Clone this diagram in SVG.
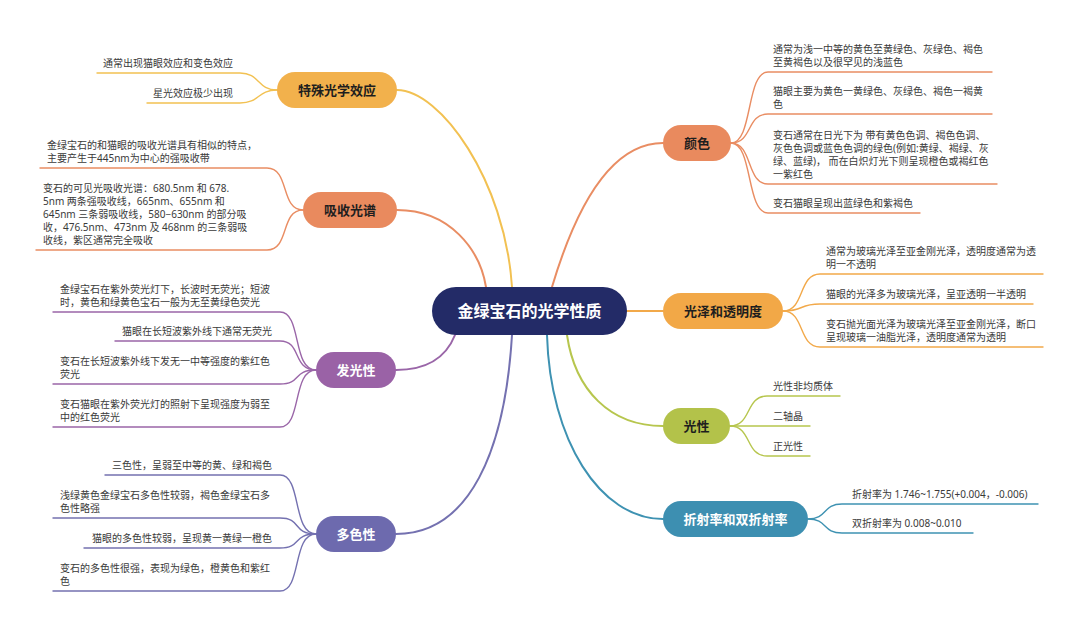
<svg xmlns="http://www.w3.org/2000/svg" width="1080" height="625" viewBox="0 0 1080 625">
<style>
  text { font-family: "Noto Sans CJK SC", "Noto Sans", sans-serif; }
  .leaf { font-size: 10px; fill: #3a3a3a; font-family: "Noto Sans", "Noto Sans CJK SC", sans-serif; }
  .br { font-size: 13px; font-weight: bold; text-anchor: middle; }
  .dark { fill: #1e1e1e; }
  .light { fill: #ffffff; }
  .main { fill: none; stroke-width: 2; stroke-linecap: round; }
  .lf { fill: none; stroke-width: 1.4; stroke-linecap: round; }
  .end { text-anchor: end; }
</style>
<rect width="1080" height="625" fill="#ffffff"/>

<g id="connectors">
  <!-- main branches -->
  <path class="main" stroke="#f2c152" d="M512,287 C505,180 440,90 397,90"/>
  <path class="main" stroke="#e98d63" d="M486,287 C480,250 450,210 397,210"/>
  <path class="main" stroke="#e98d63" d="M552,287 C575,210 610,143 663,143"/>
  <path class="main" stroke="#f2a94a" d="M627,311 L663,311"/>
  <path class="main" stroke="#b7c64e" d="M567,335 C575,390 610,426 663,426"/>
  <path class="main" stroke="#3e92b2" d="M547,335 C550,440 600,519 663,519"/>
  <path class="main" stroke="#9a66a8" d="M455,335 C445,360 425,370 396,370"/>
  <path class="main" stroke="#7471b0" d="M512,335 C505,450 470,534 396,534"/>

  <!-- 特殊光学效应 leaves -->
  <path class="lf" stroke="#f2c152" d="M97,73 L240,73 C260,73 257,90 277,90"/>
  <path class="lf" stroke="#f2c152" d="M147,103 L240,103 C260,103 257,90 277,90"/>
  <!-- 吸收光谱 leaves -->
  <path class="lf" stroke="#e98d63" d="M40,168 L267,168 C290,168 280,210 303,210"/>
  <path class="lf" stroke="#e98d63" d="M36,250 L267,250 C290,250 280,210 303,210"/>
  <!-- 发光性 leaves -->
  <path class="lf" stroke="#9a66a8" d="M53,312 L280,312 C302,312 292,370 316,370"/>
  <path class="lf" stroke="#9a66a8" d="M115,341 L280,341 C302,341 292,370 316,370"/>
  <path class="lf" stroke="#9a66a8" d="M53,384 L280,384 C302,384 292,370 316,370"/>
  <path class="lf" stroke="#9a66a8" d="M53,427 L280,427 C302,427 292,370 316,370"/>
  <!-- 多色性 leaves -->
  <path class="lf" stroke="#7471b0" d="M105,475 L280,475 C302,475 292,534 316,534"/>
  <path class="lf" stroke="#7471b0" d="M53,518 L280,518 C302,518 292,534 316,534"/>
  <path class="lf" stroke="#7471b0" d="M84,548 L280,548 C302,548 292,534 316,534"/>
  <path class="lf" stroke="#7471b0" d="M53,591 L280,591 C302,591 292,534 316,534"/>
  <!-- 颜色 leaves -->
  <path class="lf" stroke="#e98d63" d="M731,143 C753,143 746,72 768,72 L992,72"/>
  <path class="lf" stroke="#e98d63" d="M731,143 C753,143 746,114 768,114 L992,114"/>
  <path class="lf" stroke="#e98d63" d="M731,143 C753,143 746,184 768,184 L997,184"/>
  <path class="lf" stroke="#e98d63" d="M731,143 C753,143 746,213 768,213 L920,213"/>
  <!-- 光泽和透明度 leaves -->
  <path class="lf" stroke="#f2a94a" d="M783,311 C805,311 798,274 820,274 L1043,274"/>
  <path class="lf" stroke="#f2a94a" d="M783,311 C805,311 798,304 820,304 L1033,304"/>
  <path class="lf" stroke="#f2a94a" d="M783,311 C805,311 798,347 820,347 L1043,347"/>
  <!-- 光性 leaves -->
  <path class="lf" stroke="#b7c64e" d="M730,426 C752,426 745,396 767,396 L840,396"/>
  <path class="lf" stroke="#b7c64e" d="M730,426 L810,426"/>
  <path class="lf" stroke="#b7c64e" d="M730,426 C752,426 745,456 767,456 L810,456"/>
  <!-- 折射率 leaves -->
  <path class="lf" stroke="#3e92b2" d="M808,519 C828,519 822,504 842,504 L1038,504"/>
  <path class="lf" stroke="#3e92b2" d="M808,519 C828,519 822,533 842,533 L973,533"/>
</g>

<g id="center">
  <rect x="432" y="287" width="195" height="48" rx="24" fill="#232b67"/>
  <text x="529.5" y="317" font-size="16" font-weight="bold" fill="#ffffff" text-anchor="middle">金绿宝石的光学性质</text>
</g>

<g id="n-special">
  <rect x="277" y="72" width="120" height="36" rx="18" fill="#f2b14c"/>
  <text class="br dark" x="337" y="95">特殊光学效应</text>
</g>
<g id="n-special-leaves">
  <text class="leaf end" x="233" y="67">通常出现猫眼效应和变色效应</text>
  <text class="leaf end" x="233" y="97">星光效应极少出现</text>
</g>

<g id="n-absorb">
  <rect x="303" y="192" width="94" height="36" rx="18" fill="#e98a5e"/>
  <text class="br dark" x="350" y="215">吸收光谱</text>
</g>
<g id="n-absorb-leaves">
  <text class="leaf" x="47" y="149">金绿宝石的和猫眼的吸收光谱具有相似的特点，</text>
  <text class="leaf" x="47" y="162">主要产生于445nm为中心的强吸收带</text>
  <text class="leaf" x="43" y="192">变石的可见光吸收光谱：680.5nm 和 678.</text>
  <text class="leaf" x="43" y="205">5nm 两条强吸收线，665nm、655nm 和</text>
  <text class="leaf" x="43" y="218">645nm 三条弱吸收线，580−630nm 的部分吸</text>
  <text class="leaf" x="43" y="231">收，476.5nm、473nm 及 468nm 的三条弱吸</text>
  <text class="leaf" x="43" y="244">收线，紫区通常完全吸收</text>
</g>

<g id="n-lum">
  <rect x="316" y="352" width="80" height="36" rx="18" fill="#9a62a6"/>
  <text class="br light" x="356" y="375" font-weight="normal">发光性</text>
</g>
<g id="n-lum-leaves">
  <text class="leaf" x="60" y="293">金绿宝石在紫外荧光灯下，长波时无荧光；短波</text>
  <text class="leaf" x="60" y="306">时，黄色和绿黄色宝石一般为无至黄绿色荧光</text>
  <text class="leaf end" x="272" y="335">猫眼在长短波紫外线下通常无荧光</text>
  <text class="leaf" x="60" y="365">变石在长短波紫外线下发无一中等强度的紫红色</text>
  <text class="leaf" x="60" y="378">荧光</text>
  <text class="leaf" x="60" y="408">变石猫眼在紫外荧光灯的照射下呈现强度为弱至</text>
  <text class="leaf" x="60" y="421">中的红色荧光</text>
</g>

<g id="n-pleo">
  <rect x="316" y="516" width="80" height="36" rx="18" fill="#6d6aae"/>
  <text class="br light" x="356" y="539" font-weight="normal">多色性</text>
</g>
<g id="n-pleo-leaves">
  <text class="leaf end" x="272" y="469">三色性，呈弱至中等的黄、绿和褐色</text>
  <text class="leaf" x="60" y="499">浅绿黄色金绿宝石多色性较弱，褐色金绿宝石多</text>
  <text class="leaf" x="60" y="512">色性略强</text>
  <text class="leaf end" x="272" y="542">猫眼的多色性较弱，呈现黄一黄绿一橙色</text>
  <text class="leaf" x="60" y="572">变石的多色性很强，表现为绿色，橙黄色和紫红</text>
  <text class="leaf" x="60" y="585">色</text>
</g>

<g id="n-color">
  <rect x="663" y="125" width="68" height="36" rx="18" fill="#e98a5e"/>
  <text class="br dark" x="697" y="148">颜色</text>
</g>
<g id="n-color-leaves">
  <text class="leaf" x="773" y="53">通常为浅一中等的黄色至黄绿色、灰绿色、褐色</text>
  <text class="leaf" x="773" y="66">至黄褐色以及很罕见的浅蓝色</text>
  <text class="leaf" x="773" y="95">猫眼主要为黄色一黄绿色、灰绿色、褐色一褐黄</text>
  <text class="leaf" x="773" y="108">色</text>
  <text class="leaf" x="773" y="139">变石通常在日光下为 带有黄色色调、褐色色调、</text>
  <text class="leaf" x="773" y="152">灰色色调或蓝色色调的绿色(例如:黄绿、褐绿、灰</text>
  <text class="leaf" x="773" y="165">绿、蓝绿)， 而在白炽灯光下则呈现橙色或褐红色</text>
  <text class="leaf" x="773" y="178">一紫红色</text>
  <text class="leaf" x="773" y="207">变石猫眼呈现出蓝绿色和紫褐色</text>
</g>

<g id="n-luster">
  <rect x="663" y="293" width="120" height="36" rx="18" fill="#f2a847"/>
  <text class="br dark" x="723" y="316">光泽和透明度</text>
</g>
<g id="n-luster-leaves">
  <text class="leaf" x="826" y="255">通常为玻璃光泽至亚金刚光泽，透明度通常为透</text>
  <text class="leaf" x="826" y="268">明一不透明</text>
  <text class="leaf" x="826" y="298">猫眼的光泽多为玻璃光泽，呈亚透明一半透明</text>
  <text class="leaf" x="826" y="328">变石抛光面光泽为玻璃光泽至亚金刚光泽，断口</text>
  <text class="leaf" x="826" y="341">呈现玻璃一油脂光泽，透明度通常为透明</text>
</g>

<g id="n-optic">
  <rect x="663" y="408" width="67" height="36" rx="18" fill="#b3c24a"/>
  <text class="br dark" x="696.5" y="431">光性</text>
</g>
<g id="n-optic-leaves">
  <text class="leaf" x="773" y="390">光性非均质体</text>
  <text class="leaf" x="773" y="420">二轴晶</text>
  <text class="leaf" x="773" y="450">正光性</text>
</g>

<g id="n-ri">
  <rect x="663" y="501" width="145" height="36" rx="18" fill="#3d8fb1"/>
  <text class="br light" x="735.5" y="524" font-weight="normal">折射率和双折射率</text>
</g>
<g id="n-ri-leaves">
  <text class="leaf" x="852" y="498">折射率为 1.746~1.755(+0.004，-0.006)</text>
  <text class="leaf" x="852" y="527">双折射率为 0.008~0.010</text>
</g>
</svg>
